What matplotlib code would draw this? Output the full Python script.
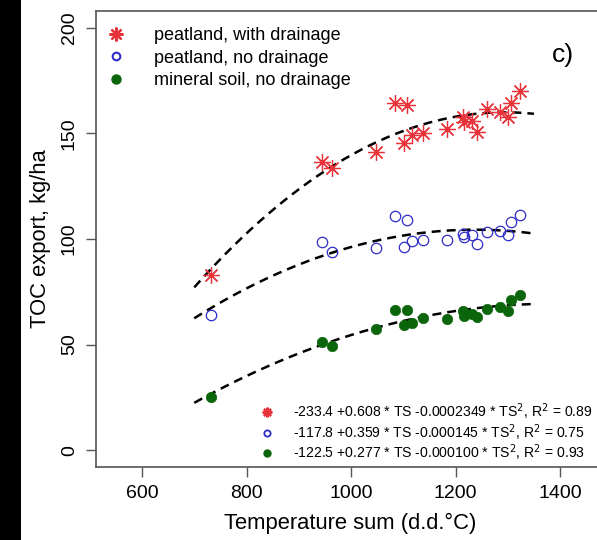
import numpy as np
import matplotlib
matplotlib.use("Agg")
import matplotlib.pyplot as plt
from matplotlib.lines import Line2D
from matplotlib.patches import Rectangle

plt.rcParams['font.family'] = ['Liberation Sans', 'DejaVu Sans']

# Temperature sum for each site (d.d.°C)
ts_values = [732, 944, 964, 1048, 1084, 1108, 1101, 1117, 1137, 1184,
             1214, 1217, 1232, 1242, 1260, 1285, 1300, 1306, 1323]

peat_drain = [83.1, 136.5, 133.6, 141.0, 164.2, 163.7, 145.7, 149.2, 150.3, 152.3,
              157.6, 155.5, 156.0, 150.7, 161.4, 160.2, 157.9, 164.5, 170.2]
peat_nodrain = [64.0, 98.5, 93.7, 95.8, 110.8, 108.8, 96.4, 99.0, 99.6, 99.3,
                102.5, 100.9, 101.7, 97.7, 103.2, 104.0, 101.7, 108.0, 111.5]
mineral_nodrain = [25.2, 51.0, 49.4, 57.6, 66.4, 66.4, 59.2, 60.0, 62.6, 62.1,
                   66.0, 63.7, 64.5, 62.9, 66.8, 67.9, 66.0, 71.1, 73.5]

# Quadratic fit coefficients (intercept, TS, TS^2)
coef_peat_drain = [-233.4, 0.608, -0.0002349]
coef_peat_nodrain = [-117.8, 0.359, -0.000145]
coef_mineral = [-122.5, 0.277, -0.000100]
fit_range = [700, 1350]

series_labels = ["peatland, with drainage", "peatland, no drainage", "mineral soil, no drainage"]
eq_labels = [
    r"-233.4 +0.608 * TS -0.0002349 * TS$^2$, R$^2$ = 0.89",
    r"-117.8 +0.359 * TS -0.000145 * TS$^2$, R$^2$ = 0.75",
    r"-122.5 +0.277 * TS -0.000100 * TS$^2$, R$^2$ = 0.93",
]
x_ticks = [600, 800, 1000, 1200, 1400]
y_ticks = [0, 50, 100, 150, 200]

W, H = 597, 540
fig = plt.figure(figsize=(W / 100, H / 100), dpi=100)
fig.patches.append(Rectangle((0, 0), 21 / W, 1, transform=fig.transFigure,
                             facecolor='black', edgecolor='none', zorder=0))

left, right, top, bottom = 96, 605, 11, 467
ax = fig.add_axes([left / W, 1 - bottom / H, (right - left) / W, (bottom - top) / H])
ax.set_xlim(512, 1486)
ax.set_ylim(-8, 208)

red = '#e8333a'
blue = '#2e2ec8'
green = '#0b650b'

xs = np.linspace(fit_range[0], fit_range[1], 200)
for c in (coef_peat_drain, coef_peat_nodrain, coef_mineral):
    ys = c[0] + c[1] * xs + c[2] * xs ** 2
    ax.plot(xs, ys, color='black', lw=1.8, ls=(0, (3.6, 2.4)), zorder=2)

ax.plot(ts_values, peat_drain, ls='none', marker=(8, 2, 0), ms=12, mew=0.9,
        color=red, zorder=3)
ax.plot(ts_values, peat_nodrain, ls='none', marker='o', ms=7.5, mew=0.9,
        mfc='none', mec=blue, zorder=3)
ax.plot(ts_values, mineral_nodrain, ls='none', marker='o', ms=7.5, mew=0.5,
        mfc=green, mec=green, zorder=3)

ax.set_xticks(x_ticks)
ax.set_yticks(y_ticks)
ax.tick_params(direction='out', length=7, width=1, color='#555555',
               labelsize=14, pad=6)
for lab in ax.get_yticklabels():
    lab.set_rotation(90)
    lab.set_va('center')
for s in ax.spines.values():
    s.set_color('#555555')
    s.set_linewidth(1.2)
ax.spines['right'].set_visible(False)

ax.set_xlabel("Temperature sum (d.d.°C)", fontsize=15.8, labelpad=8)
ax.set_ylabel("TOC export, kg/ha", fontsize=15.8, labelpad=7)

handles = [
    Line2D([], [], ls='none', marker=(8, 2, 0), ms=10, mew=1.6, color=red),
    Line2D([], [], ls='none', marker='o', ms=5.5, mew=1.5, mfc='none', mec=blue),
    Line2D([], [], ls='none', marker='o', ms=6.5, mfc=green, mec=green),
]
leg1 = ax.legend(handles, series_labels, loc='upper left', frameon=False,
                 fontsize=13, handlelength=1.0, handletextpad=1.6,
                 labelspacing=0.3, borderaxespad=0.0,
                 bbox_to_anchor=(0.008, 0.98))
ax.add_artist(leg1)

handles2 = [
    Line2D([], [], ls='none', marker=(8, 2, 0), ms=7, mew=1.6, color=red),
    Line2D([], [], ls='none', marker='o', ms=4.5, mew=1.3, mfc='none', mec=blue),
    Line2D([], [], ls='none', marker='o', ms=5, mfc=green, mec=green),
]
leg2 = ax.legend(handles2, eq_labels, loc='lower left', frameon=False,
                 fontsize=10.1, handlelength=1.0, handletextpad=1.4,
                 labelspacing=0.0, borderaxespad=0.0,
                 bbox_to_anchor=((254 - left) / (right - left), -0.004))

fig.text(552 / W, 1 - 62 / H, "c)", fontsize=19)

fig.savefig("out.png", dpi=100)
